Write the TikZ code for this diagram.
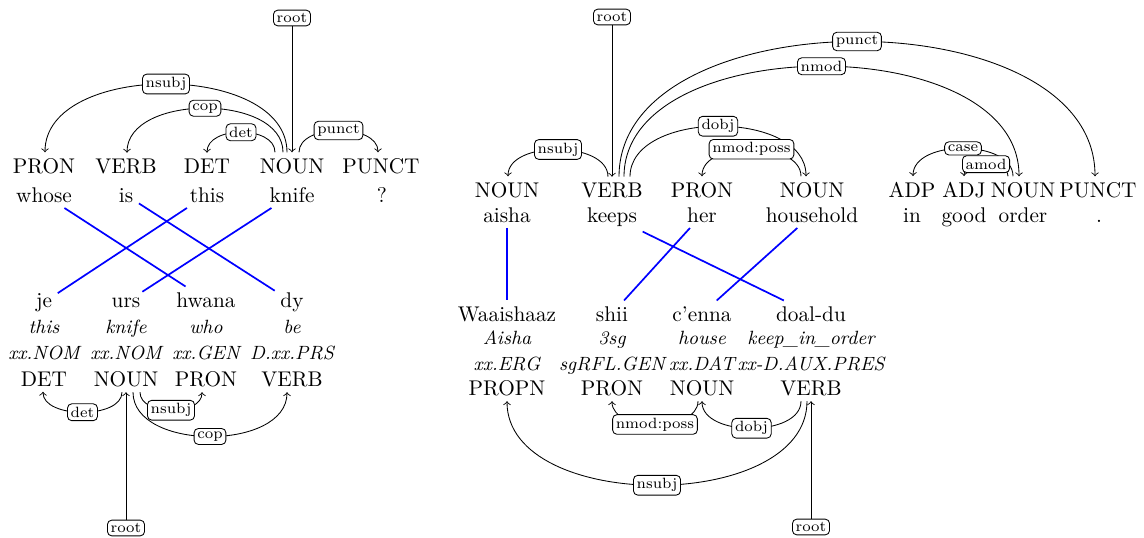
\documentclass[tikz,border=0pt]{standalone}

\begin{document}
\begin{tikzpicture}[x=0.47pt, y=-0.47pt,
    tag/.style={anchor=base, inner sep=2.5pt},
    word/.style={anchor=base, inner sep=2.5pt},
    gloss/.style={anchor=base, inner sep=1pt, font=\small\itshape},
    rel/.style={draw, fill=white, rounded corners=2pt, inner sep=1.5pt, font=\scriptsize},
    dep/.style={->, thin},
    link/.style={blue, line width=0.8pt}]
        \useasboundingbox (0,0) rectangle (1144,537);

        % English sentence, POS row
        \node[tag] (pron) at (44,173) {PRON};
        \node[tag] (verb) at (126,173) {VERB};
        \node[tag] (det) at (207,173) {DET};
        \node[tag] (noun) at (292,173) {NOUN};
        \node[tag] (punct) at (381,173) {PUNCT};

        % English sentence, word row
        \node[word] (whose) at (44,202) {whose};
        \node[word] (is) at (126,202) {is};
        \node[word] (this) at (207,202) {this};
        \node[word] (knife) at (292,202) {knife};
        \node[word] (qmark) at (382,202) {?};

        % Ingush sentence, word row
        \node[word] (je) at (44,307) {je};
        \node[word] (urs) at (126,307) {urs};
        \node[word] (hwana) at (206,307) {hwana};
        \node[word] (dy) at (292,307) {dy};

        % Ingush sentence, glosses
        \node[gloss] (jegl) at (44,333) {this};
        \node[gloss] (ursgl) at (126,333) {knife};
        \node[gloss] (hwanagl) at (206,333) {who};
        \node[gloss] (dygl) at (292,333) {be};
        \node[gloss] (jemo) at (44,359) {xx.NOM};
        \node[gloss] (ursmo) at (126,359) {xx.NOM};
        \node[gloss] (hwanamo) at (206,359) {xx.GEN};
        \node[gloss] (dymo) at (292,359) {D.xx.PRS};

        % Ingush sentence, POS row
        \node[tag] (ldet) at (44,386) {DET};
        \node[tag] (lnoun) at (126,386) {NOUN};
        \node[tag] (lpron) at (206,386) {PRON};
        \node[tag] (lverb) at (292,386) {VERB};

        % Arcs over the English sentence
        \node[rel] (roota) at (292,18) {root};
        \draw[dep] (roota) -- (noun.north);
        \draw[dep] ([shift={(-5,0)}]noun.north) .. controls +(0,-91) and +(0,-91) .. ([shift={(1,0)}]pron.north) node[rel, midway] {nsubj};
        \draw[dep] ([shift={(-9,0)}]noun.north) .. controls +(0,-59) and +(0,-59) .. ([shift={(1,0)}]verb.north) node[rel, midway] {cop};
        \draw[dep] ([shift={(-17,0)}]noun.north) .. controls +(0,-27) and +(0,-27) .. (det.north) node[rel, midway] {det};
        \draw[dep] ([shift={(7,0)}]noun.north) .. controls +(0,-29) and +(0,-29) .. ([shift={(-3,0)}]punct.north) node[rel, midway] {punct};

        % Arcs under the Ingush sentence
        \node[rel] (rootb) at (126,528) {root};
        \draw[dep] (rootb) -- (lnoun.south);
        \draw[dep] ([shift={(-4,0)}]lnoun.south) .. controls +(0,27) and +(0,27) .. ([shift={(-1,0)}]ldet.south) node[rel, midway] {det};
        \draw[dep] ([shift={(14,0)}]lnoun.south) .. controls +(0,24) and +(0,24) .. ([shift={(-4,0)}]lpron.south) node[rel, midway] {nsubj};
        \draw[dep] ([shift={(7,0)}]lnoun.south) .. controls +(0,59) and +(0,59) .. ([shift={(-5,0)}]lverb.south) node[rel, midway] {cop};

        % Word alignment
        \draw[link] (whose) -- (hwana);
        \draw[link] (is) -- (dy);
        \draw[link] (this) -- (je);
        \draw[link] (knife) -- (urs);

        % English sentence 2, POS row
        \node[tag] (aishan) at (507,197) {NOUN};
        \node[tag] (keepsv) at (612,197) {VERB};
        \node[tag] (herp) at (702,197) {PRON};
        \node[tag] (householdn) at (812,197) {NOUN};
        \node[tag] (inadp) at (912,197) {ADP};
        \node[tag] (goodadj) at (964,197) {ADJ};
        \node[tag] (ordern) at (1023,197) {NOUN};
        \node[tag] (dotpunct) at (1098,197) {PUNCT};

        % English sentence 2, word row
        \node[word] (aisha) at (507,222) {aisha};
        \node[word] (keeps) at (612,222) {keeps};
        \node[word] (her) at (702,222) {her};
        \node[word] (household) at (812,222) {household};
        \node[word] (in) at (912,222) {in};
        \node[word] (good) at (964,222) {good};
        \node[word] (order) at (1023,222) {order};
        \node[word] (dot) at (1099,222) {.};

        % Ingush sentence 2, word row
        \node[word] (waaishaaz) at (507,321) {Waaishaaz};
        \node[word] (shii) at (612,321) {shii};
        \node[word] (cenna) at (702,321) {c'enna};
        \node[word] (doaldu) at (811,321) {doal-du};

        % Ingush sentence 2, glosses
        \node[gloss] (waaishaazgl) at (507,344) {Aisha};
        \node[gloss] (shiigl) at (612,344) {3sg};
        \node[gloss] (cennagl) at (702,344) {house};
        \node[gloss] (doaldugl) at (811,344) {keep\_in\_order};
        \node[gloss] (waaishaazmo) at (507,370) {xx.ERG};
        \node[gloss] (shiimo) at (612,370) {sgRFL.GEN};
        \node[gloss] (cennamo) at (702,370) {xx.DAT};
        \node[gloss] (doaldumo) at (811,370) {xx-D.AUX.PRES};

        % Ingush sentence 2, POS row
        \node[tag] (waaishaazp) at (507,395) {PROPN};
        \node[tag] (shiip) at (612,395) {PRON};
        \node[tag] (cennan) at (702,395) {NOUN};
        \node[tag] (doalduv) at (811,395) {VERB};

        % Arcs over English sentence 2
        \node[rel] (rootc) at (612,17) {root};
        \draw[dep] (rootc) -- (keepsv.north);
        \draw[dep] ([shift={(-4,0)}]keepsv.north) .. controls +(0,-36) and +(0,-36) .. ([shift={(1,0)}]aishan.north) node[rel, midway] {nsubj};
        \draw[dep] ([shift={(7,0)}]keepsv.north) .. controls +(0,-180) and +(0,-180) .. ([shift={(-3,0)}]dotpunct.north) node[rel, midway] {punct};
        \draw[dep] ([shift={(12,0)}]keepsv.north) .. controls +(0,-147) and +(0,-147) .. ([shift={(-4,0)}]ordern.north) node[rel, midway] {nmod};
        \draw[dep] ([shift={(18,0)}]keepsv.north) .. controls +(0,-67) and +(0,-67) .. ([shift={(-6,0)}]householdn.north) node[rel, midway] {dobj};
        \draw[dep] ([shift={(-11,0)}]householdn.north) .. controls +(0,-36) and +(0,-36) .. (herp.north) node[rel, midway] {nmod:poss};
        \draw[dep] ([shift={(-10,0)}]ordern.north) .. controls +(0,-37) and +(0,-37) .. ([shift={(1,0)}]inadp.north) node[rel, midway] {case};
        \draw[dep] ([shift={(-15,0)}]ordern.north) .. controls +(0,-16) and +(0,-16) .. (goodadj.north) node[rel, midway] {amod};

        % Arcs under Ingush sentence 2
        \node[rel] (rootd) at (811,527) {root};
        \draw[dep] (rootd) -- (doalduv.south);
        \draw[dep] ([shift={(-4,0)}]cennan.south) .. controls +(0,31) and +(0,31) .. (shiip.south) node[rel, midway] {nmod:poss};
        \draw[dep] ([shift={(-10,0)}]doalduv.south) .. controls +(0,36) and +(0,36) .. (cennan.south) node[rel, midway] {dobj};
        \draw[dep] ([shift={(-4,0)}]doalduv.south) .. controls +(0,112) and +(0,112) .. (waaishaazp.south) node[rel, midway] {nsubj};

        % Word alignment 2
        \draw[link] (aisha) -- (waaishaaz);
        \draw[link] (keeps) -- (doaldu);
        \draw[link] (her) -- (shii);
        \draw[link] (household) -- (cenna);
\end{tikzpicture}
\end{document}
